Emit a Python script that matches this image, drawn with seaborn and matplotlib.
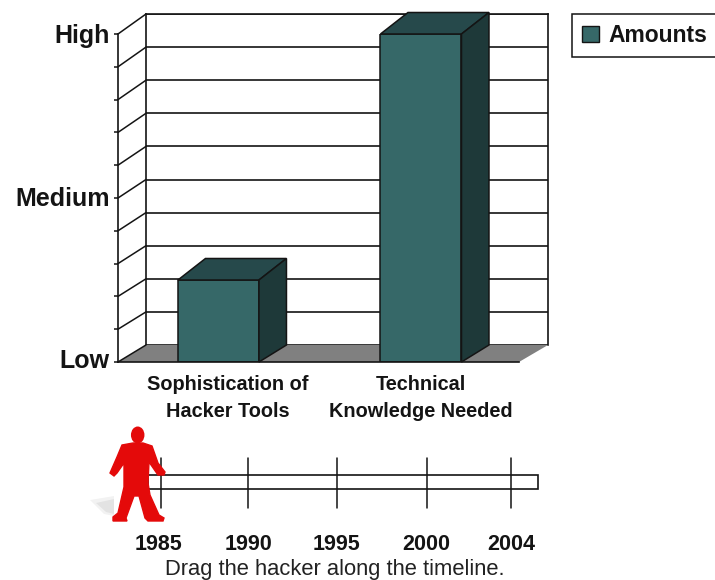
import matplotlib
matplotlib.use("Agg")
import matplotlib.pyplot as plt
import seaborn as sns
from matplotlib.lines import Line2D
from matplotlib.patches import Ellipse, Patch, Polygon, Rectangle
from matplotlib.transforms import IdentityTransform, ScaledTranslation

# --- data ---
categories = ["Sophistication of\nHacker Tools", "Technical\nKnowledge Needed"]
amounts = [2.5, 10]
level_ticks = [0, 1, 2, 3, 4, 5, 6, 7, 8, 9, 10]
level_labels = ["Low", "", "", "", "", "Medium", "", "", "", "", "High"]
years = ["1985", "1990", "1995", "2000", "2004"]

W, H = 715, 580
INK = "#141414"
FRONT = "#366868"
TOP = "#26494b"
SIDE = "#1e3939"
FLOOR = "#808080"
RED = "#e40a0a"

sns.set_style("white")
plt.rcParams["font.family"] = ["Liberation Sans", "DejaVu Sans"]

fig = plt.figure(figsize=(W / 100, H / 100), dpi=100)


def box(x0, y0, x1, y1):
    # pixel box (y from the top) to figure fractions
    return [x0 / W, 1 - y1 / H, (x1 - x0) / W, (y1 - y0) / H]


# back wall of the fake 3D chart
wall = fig.add_axes(box(146, 14, 548, 345), zorder=1)
wall.set_xlim(0, 1)
wall.set_ylim(0, 10)
wall.set_xticks([])
wall.set_yticks(level_ticks)
wall.tick_params(length=0, labelleft=False)
wall.grid(axis="y", color=INK, linewidth=1.2)
wall.spines["bottom"].set_visible(False)
for side in ["left", "right", "top"]:
    wall.spines[side].set_color(INK)
    wall.spines[side].set_linewidth(1.2)

# front plane holds the bars and the axes
ax = fig.add_axes(box(118, 34, 519, 362), zorder=3)
ax.patch.set_alpha(0)
sns.barplot(x=categories, y=amounts, color=FRONT, saturation=1, width=0.4,
            edgecolor=INK, linewidth=1.1, ax=ax)
ax.set_xlim(-0.496, 1.484)
ax.set_ylim(0, 10)
ax.set_yticks(level_ticks)
ax.set_yticklabels(level_labels, fontsize=18, fontweight="bold", color=INK)
ax.tick_params(axis="y", length=3, width=1.1, color=INK, pad=3, left=True)
ax.tick_params(axis="x", which="major", length=0, pad=9)
ax.set_xticks([0.5, 1.484], minor=True)
ax.tick_params(axis="x", which="minor", length=5, width=1.1, color=INK)
for lab in ax.get_xticklabels():
    lab.set_fontsize(14.3)
    lab.set_fontweight("bold")
    lab.set_color(INK)
    lab.set_linespacing(1.55)
# first label sits a little to the right of its bar
first = ax.get_xticklabels()[0]
first.set_transform(first.get_transform() + ScaledTranslation(9 / 100, 0, fig.dpi_scale_trans))
# Low and Medium sit a touch above their ticks
for lab, up in zip([ax.get_yticklabels()[0], ax.get_yticklabels()[5]], [4, 2]):
    lab.set_transform(lab.get_transform() + ScaledTranslation(0, up / 100, fig.dpi_scale_trans))
ax.spines["top"].set_visible(False)
ax.spines["right"].set_visible(False)
for side in ["left", "bottom"]:
    ax.spines[side].set_color(INK)
    ax.spines[side].set_linewidth(1.2)

fig.canvas.draw()
px = IdentityTransform()

# floor and the diagonals joining front axis to back wall
f0 = ax.transData.transform((-0.496, 0))
f1 = ax.transData.transform((1.484, 0))
b0 = wall.transData.transform((0, 0))
b1 = wall.transData.transform((1, 0))
fig.add_artist(Polygon([f0, f1, b1, b0], closed=True, facecolor=FLOOR, edgecolor="none",
                       transform=px, zorder=2))
for lev in level_ticks:
    p = ax.transData.transform((-0.496, lev))
    q = wall.transData.transform((0, lev))
    fig.add_artist(Line2D([p[0], q[0]], [p[1], q[1]], color=INK, linewidth=1.1,
                          transform=px, zorder=2))

# depth faces of the bars, built from the bars seaborn drew
for bar in ax.patches:
    x0, y0 = ax.transData.transform((bar.get_x(), 0))
    x1, y1 = ax.transData.transform((bar.get_x() + bar.get_width(), bar.get_height()))
    dx, dy_top, dy_bot = 27.5, 21.5, 17
    ax.add_patch(Polygon([(x0, y1), (x1, y1), (x1 + dx, y1 + dy_top), (x0 + dx, y1 + dy_top)],
                         closed=True, facecolor=TOP, edgecolor=INK, linewidth=1.1,
                         transform=px, clip_on=False, zorder=4))
    ax.add_patch(Polygon([(x1, y0), (x1 + dx, y0 + dy_bot), (x1 + dx, y1 + dy_top), (x1, y1)],
                         closed=True, facecolor=SIDE, edgecolor=INK, linewidth=1.1,
                         transform=px, clip_on=False, zorder=4))

# legend, its box runs off the right edge like the original
leg = fig.legend(handles=[Patch(facecolor=FRONT, edgecolor=INK, label="Amounts")],
                 loc="lower left", bbox_to_anchor=(572 / W, 1 - 57 / H, 200 / W, 44 / H),
                 mode="expand", borderaxespad=0, fancybox=False, framealpha=1,
                 edgecolor=INK, handlelength=0.72, handleheight=0.72,
                 handletextpad=0.44, borderpad=0.44, prop={"size": 16.5, "weight": "bold"})
leg.get_frame().set_linewidth(1.1)
for t in leg.get_texts():
    t.set_color(INK)

# timeline and hacker figure on a pixel overlay
ov = fig.add_axes([0, 0, 1, 1], zorder=5)
ov.patch.set_alpha(0)
ov.set_xlim(0, W)
ov.set_ylim(H, 0)
ov.axis("off")

year_x = [161, 248, 337, 427, 511]
year_nudge = [-3, 0, 0, -1, 0]
ov.add_patch(Rectangle((148, 475), 390, 14, facecolor="white", edgecolor=INK, linewidth=1.2))
for x, nudge, year in zip(year_x, year_nudge, years):
    ov.plot([x, x], [458, 508], color=INK, linewidth=1.1)
    ov.text(x + nudge, 545, year, ha="center", va="center", fontsize=15.5, fontweight="bold", color=INK)
ov.text(335, 570, "Drag the hacker along the timeline.", ha="center", va="center",
        fontsize=15.8, color="#222222")

# soft shadow by the feet
for pts, alpha in [([(90, 500), (114, 496), (114, 516), (104, 514)], 0.05),
                   ([(96, 503), (114, 499), (114, 514), (106, 512)], 0.06)]:
    ov.add_patch(Polygon(pts, closed=True, facecolor="black", alpha=alpha, edgecolor="none"))

# hacker icon, points in pixels
body = [(133, 443), (143, 443), (152, 446), (158, 463), (165, 472), (164, 475), (158, 475),
        (149, 462), (148, 483), (150, 495), (159, 515), (164, 518), (163, 521), (148, 521),
        (145, 518), (139, 496), (134, 496), (126, 518), (127, 521), (113, 521), (113, 517),
        (118, 513), (124, 487), (124, 463), (117, 473), (114, 476), (110, 473), (117, 457),
        (122, 445)]
ov.add_patch(Polygon(body, closed=True, facecolor=RED, edgecolor=RED, linewidth=1, zorder=6))
ov.add_patch(Ellipse((137.7, 435), 13.5, 17, facecolor=RED, edgecolor="none", zorder=6))

fig.savefig("out.png", dpi=100)
